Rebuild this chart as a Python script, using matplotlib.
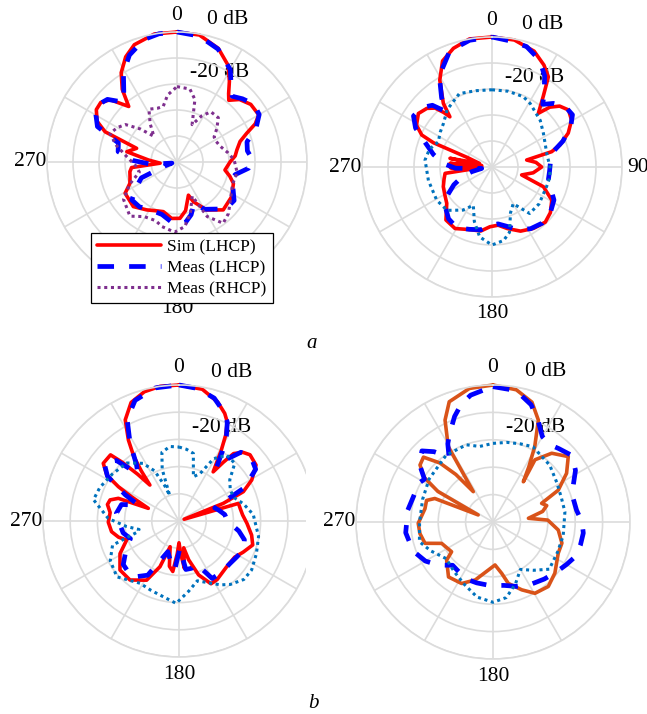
import matplotlib
matplotlib.use("Agg")
import matplotlib.pyplot as plt
import numpy as np
from matplotlib.patches import Rectangle

plt.rcParams["font.family"] = ["Liberation Serif", "DejaVu Serif"]

# Radiation patterns, gain in dB against angle in degrees.
# (a) left
A1_SIM_ANG = [0, 10, 20, 28, 33, 37, 40, 45, 52, 60, 64, 67.6, 72, 78.6, 84, 90, 99.5, 105, 110.7,
              122.4, 136, 148.3, 157.6, 161, 170, 177, 185.4, 195.4, 204, 212.3, 224.4, 238.9, 245.6,
              252, 258.4, 263, 266, 274, 281.6, 288.7, 292.8, 297, 303, 308, 313, 319, 323, 328, 334,
              340, 350, 360]
A1_SIM_DB = [0, -0.4, -3.5, -8, -13, -17, -19, -16, -14, -13.7, -16.5, -21, -24.5, -26.5, -27.5,
             -29.6, -31.3, -29, -26.8, -25.1, -24.4, -28.3, -33.5, -36.5, -31, -28.3, -28.2, -30.2,
             -29.5, -28.2, -26, -26.7, -30.1, -31, -31.5, -32.4, -43.5, -39, -30.3, -33.6, -20, -15.5,
             -13, -12.8, -14.9, -21.7, -15, -9.5, -5, -2, 0, 0]
A1_MEAS_ANG = [0, 10, 20, 30, 36, 40, 46, 53, 60, 67, 74, 81, 88, 95, 102, 108, 116, 124, 134, 143,
               150, 157, 165, 172, 178, 186, 196, 208, 220, 230, 240, 246, 252, 258, 265, 272, 280,
               288, 294, 300, 306, 312, 318, 323, 329, 336, 345, 352, 360]
A1_MEAS_DB = [0, -0.8, -3.8, -9, -14.5, -17, -15, -13, -13.5, -17, -22, -22.6, -21, -22.4, -27, -28.4,
              -26, -23.5, -24, -27.3, -29, -33, -29, -26.5, -26, -27, -29, -29, -27.5, -27.3, -32.5,
              -35, -45, -48, -40, -33, -27, -26.3, -16.5, -14, -12.5, -14, -19, -16, -10, -5, -1.2,
              -0.2, 0]
A1_RHCP_ANG = [0, 10, 16, 22, 28, 34, 43, 50, 56, 62, 70, 80, 88, 100, 112, 125, 135, 143, 151, 156,
               165, 173, 182, 193, 200, 211, 221, 235, 245, 255, 265, 275, 285, 293, 300, 306, 312,
               318, 325, 332, 340, 346, 352, 360]
A1_RHCP_DB = [-21, -21.5, -25, -34.5, -30, -26.7, -26.7, -30, -32.8, -33, -32.3, -30, -28, -26.5, -27,
              -24.9, -22, -20.5, -26, -35.6, -30, -25, -23, -24.5, -26, -25.5, -22.4, -24.9, -30, -35,
              -34, -31, -26, -22, -23.5, -25.5, -31, -36.7, -32, -27, -28, -28, -24, -21]

# (a) right
A2_SIM_ANG = [0, 10, 20, 27, 32, 36, 40.8, 44, 48, 53.3, 59.5, 66, 72, 75.6, 78.6, 84, 90, 98, 105,
              111, 119, 128, 136, 146, 156, 166, 174, 182, 190, 200, 211, 221, 231.3, 240, 248, 256,
              262.3, 266, 269, 272, 275, 278, 281.7, 286, 291, 292.5, 294.5, 299, 306, 312, 316,
              318.5, 320, 322.6, 329, 335, 342, 350, 360]
A2_SIM_DB = [0, -0.4, -2.6, -6, -9.1, -16.5, -22.7, -18, -15, -13.3, -14.5, -17.9, -22.5, -26.3,
             -36.4, -33, -30.9, -34, -38.2, -28.8, -23.7, -21.5, -20.5, -21.5, -23, -25.6, -27.5, -27,
             -25, -24.4, -22.4, -23, -27.7, -29, -29.8, -31, -31.8, -45, -34, -46, -33.8, -46, -33.5,
             -45, -40, -25.6, -20.3, -16.8, -15, -16.3, -18.5, -22, -24.8, -19.2, -11, -5, -2, 0, 0]
A2_MEAS_ANG = [0, 8, 16, 24, 30, 35, 39, 44, 50, 57, 63, 70, 78, 86, 94, 102, 110, 118, 128, 138,
               148, 158, 166, 174, 182, 190, 200, 210, 220, 230, 238, 245, 252, 257, 262, 268, 274,
               282, 290, 297, 303, 310, 316, 320, 324, 330, 340, 350, 360]
A2_MEAS_DB = [0, -1, -1.8, -5, -9.5, -15, -19, -16, -13.5, -13.1, -16, -21, -27, -27.5, -27.8, -27.8,
              -26, -23, -21.5, -21, -22, -24, -26.5, -28, -27.5, -25.5, -24.5, -23, -24, -26.5, -30,
              -33.8, -38, -42, -46, -36, -31.3, -27, -22.7, -17, -14, -14.5, -17, -22, -17, -9.5,
              -2.5, -0.5, 0]
A2_RHCP_ANG = [0, 12, 24, 31, 46, 57, 76, 90, 100, 110, 128, 141, 150, 158, 165, 171, 180, 190, 198,
               206, 214, 226, 239, 258, 276, 286, 295, 304, 312, 322, 336, 348, 360]
A2_RHCP_DB = [-20.3, -20.2, -20.4, -21.5, -24.2, -26.4, -28.3, -27.7, -27.4, -27.7, -27, -27, -33.7,
              -31, -24, -21.4, -20, -22.7, -28, -33.6, -30, -26, -25.2, -25, -24.1, -25, -27.2, -26,
              -24.9, -22, -19.1, -20, -20.3]

# (b) left
B1_SIM_ANG = [0, 10, 18, 23, 26, 28.5, 31, 34.8, 37, 39, 43, 47, 54, 60.6, 65.5, 68.3, 71, 73.5, 79,
              84.6, 92, 101, 108, 116, 123, 134, 147, 153, 160, 166, 170, 173.5, 177, 180, 183, 187,
              192, 199, 202.6, 208.7, 219.7, 230.3, 241, 250, 255, 261, 269, 277, 283, 287, 290.5,
              292.4, 297, 299.5, 302.5, 307.3, 314, 316, 318.5, 321, 323, 325, 328, 332, 338, 345,
              352, 360]
B1_SIM_DB = [0, -0.8, -4, -7, -9.5, -14, -20, -28, -23, -18.1, -15.5, -14.3, -15, -19.3, -24, -32.5,
             -48, -27.2, -27, -26.5, -25, -22.8, -21.5, -23.8, -25.6, -25.7, -24.3, -24.1, -28.9,
             -35.3, -40, -32.5, -38, -42, -38, -31.3, -33, -40, -31.8, -25.2, -21.8, -21.8, -25.2,
             -29.5, -27, -24.9, -24, -24.5, -23, -23.5, -26.2, -37.8, -30.4, -24.4, -18.5, -15, -15,
             -20, -27, -33, -27, -21, -14.9, -7.9, -3, -0.8, 0, 0]
B1_MEAS_ANG = [0, 8, 16, 22, 26, 29, 32, 35, 38, 42, 48, 56, 63, 70, 75, 82, 90, 99.5, 106, 114, 122,
               130, 140, 150, 158, 165, 172, 178, 185, 192, 200, 210, 220, 232, 242, 250, 258, 266,
               277, 286, 291.5, 296, 302, 308, 314, 319, 323, 328, 333, 340, 350, 360]
B1_MEAS_DB = [0, -0.8, -3, -6.5, -9.5, -14, -20, -26, -21, -16, -14.5, -16, -23, -36, -34.8, -33,
              -32.2, -27.7, -25, -24, -25, -25.6, -25.5, -25.6, -33, -32, -32, -40, -32, -35, -38, -27,
              -23, -24, -28, -31, -29, -28.3, -26.8, -28, -34, -28, -19, -15, -18, -27, -24, -16, -8,
              -2.8, -0.3, 0]
B1_RHCP_ANG = [0, 6, 12, 18, 24, 29, 36, 44, 51, 59, 67, 75, 85, 101, 113, 124, 132, 141, 147, 155,
               163, 172, 182, 192, 202, 212, 228, 240, 250, 255, 258, 264, 272, 284, 293, 305, 318,
               328, 334, 338, 340, 342, 346, 353, 360]
B1_RHCP_DB = [-22.8, -23.5, -24.6, -32.9, -30.9, -23.8, -20.1, -20.5, -26, -28, -28, -25.5, -22.6,
              -20.2, -19.1, -17.8, -17.9, -20, -22, -25, -27, -24, -19.7, -21.6, -22.5, -23, -19.3,
              -20.8, -24, -34, -35, -30.6, -24, -17.6, -18.4, -20, -21.3, -25, -29.5, -36, -40, -30,
              -24, -22.4, -22.8]

# (b) right
B2_SIM_ANG = [0, 10, 18, 24, 29, 33, 37, 34, 40.5, 49, 56.5, 64, 69, 73, 78, 84, 88, 97, 107, 115.6,
              129.6, 139.4, 149.5, 157, 166, 170.4, 177.3, 185.5, 197, 207, 219, 230.6, 234.3, 247.4,
              252.6, 261, 269, 281, 288, 292, 295.5, 299, 303, 308, 313, 318, 322, 327, 329.3, 334.8,
              340, 350, 360]
B2_SIM_DB = [0, -1, -4, -9.3, -18.6, -26, -31.6, -22.6, -17, -13.6, -17.8, -23.5, -31, -29.5, -31.5,
             -37, -30, -26, -23.7, -23.6, -20.7, -19, -19.8, -23.1, -26.9, -31, -34.3, -32.4, -27.9,
             -24.8, -24.2, -28.1, -31.4, -29.7, -24, -23, -22.7, -24.7, -24.5, -27.1, -44, -27, -20,
             -16.2, -15.3, -21, -28, -36.8, -18, -8.9, -3.3, -0.5, 0]
B2_MEAS_ANG = [0, 10, 18, 24, 30, 36, 42, 50, 58, 66, 74, 82, 90, 97, 105, 112, 120, 128, 138, 150,
               160, 170, 183, 195, 205, 215, 223, 232, 240, 250, 263, 278, 290, 296, 302, 308, 315,
               320, 326, 330, 334, 340, 345, 350, 356, 360]
B2_MEAS_DB = [-0.6, -1.3, -5, -9.5, -14, -15, -14, -12.3, -14.5, -18, -19.5, -19.2, -17.5, -16.8,
              -17, -17.2, -19, -20.5, -22, -23.5, -25, -26.5, -26.8, -27, -27, -28, -28.4, -24.5,
              -21.5, -19, -17.9, -18.6, -19.6, -19, -20.5, -16, -13.3, -16.5, -21.3, -17, -14, -9,
              -5.4, -3, -1.7, -0.6]
B2_RHCP_ANG = [0, 10, 19, 28, 45, 58, 70, 82, 101, 115, 130, 140, 150, 160, 170, 180, 192, 205, 218,
               232, 245, 255, 270, 288, 304, 325, 341, 350, 360]
B2_RHCP_DB = [-21.3, -20.5, -19.8, -18.9, -20.7, -22.6, -23.5, -23.5, -23.9, -24, -23.2, -27, -30,
              -26, -22, -20.7, -22, -25, -27, -28.3, -25, -22.2, -23.2, -23, -21.9, -20.2, -20.2, -22,
              -21.3]

LEGEND_LABELS = ["Sim (LHCP)", "Meas (LHCP)", "Meas (RHCP)"]
RING_DB = [-40, -30, -20, -10, 0]
FLOOR_DB = -50

W, H = 647, 714
GRID = "#DCDCDC"
RED, BLUE, PURPLE, CYAN, ORANGE = "#FF0000", "#0000FF", "#7E2F8E", "#0072BD", "#D95319"


def add_polar(fig, cx, cy, rad):
    """Polar axes centred on pixel (cx, cy) with outer ring radius rad."""
    ax = fig.add_axes([(cx - rad) / W, (H - cy - rad) / H, 2 * rad / W, 2 * rad / H],
                      projection="polar")
    ax.set_theta_zero_location("N")
    ax.set_theta_direction(-1)
    ax.set_ylim(0, -FLOOR_DB)
    ax.set_yticks([d - FLOOR_DB for d in RING_DB])
    ax.set_yticklabels([])
    ax.set_xticks(np.deg2rad(np.arange(0, 360, 30)))
    ax.set_xticklabels([])
    ax.grid(True, color=GRID, lw=1.2)
    ax.spines["polar"].set_color(GRID)
    ax.spines["polar"].set_linewidth(1.2)
    ax.patch.set_alpha(0)
    return ax


def curve(ax, ang, db, kind, color):
    r = np.clip(np.asarray(db, float) - FLOOR_DB, 0, None)
    th = np.deg2rad(ang)
    if kind == "sim":
        ln, = ax.plot(th, r, color=color, lw=2.6, solid_capstyle="round", solid_joinstyle="round")
    elif kind == "meas":
        ln, = ax.plot(th, r, color=color, lw=3.4, dashes=(3.5, 3.2), dash_capstyle="butt")
    else:
        ln, = ax.plot(th, r, color=color, lw=2.2, dashes=(1.0, 1.2), dash_capstyle="butt")
    ln.set_clip_on(False)
    return ln


def labels(ax, angles):
    for a in angles:
        ax.text(np.deg2rad(a), 56.3, str(a), ha="center", va="center", fontsize=15.5, zorder=1)
    ax.text(np.deg2rad(12), 56.0, "0 dB", ha="left", va="center", fontsize=15.5, zorder=1)
    ax.text(np.deg2rad(8), 34.8, "-20 dB", ha="left", va="center", fontsize=15.5, zorder=1)


fig = plt.figure(figsize=(W / 100, H / 100), dpi=100)

ax1 = add_polar(fig, 177, 162, 130)
labels(ax1, [0, 270, 180])
h1 = curve(ax1, A1_SIM_ANG, A1_SIM_DB, "sim", RED)
h2 = curve(ax1, A1_MEAS_ANG, A1_MEAS_DB, "meas", BLUE)
h3 = curve(ax1, A1_RHCP_ANG, A1_RHCP_DB, "rhcp", PURPLE)

ax2 = add_polar(fig, 492, 167, 130)
labels(ax2, [0, 90, 270, 180])
curve(ax2, A2_SIM_ANG, A2_SIM_DB, "sim", RED)
curve(ax2, A2_MEAS_ANG, A2_MEAS_DB, "meas", BLUE)
curve(ax2, A2_RHCP_ANG, A2_RHCP_DB, "rhcp", CYAN)

ax3 = add_polar(fig, 179, 521, 136)
labels(ax3, [0, 270, 180])
curve(ax3, B1_SIM_ANG, B1_SIM_DB, "sim", RED)
curve(ax3, B1_MEAS_ANG, B1_MEAS_DB, "meas", BLUE)
curve(ax3, B1_RHCP_ANG, B1_RHCP_DB, "rhcp", CYAN)

ax4 = add_polar(fig, 493, 522, 137)
labels(ax4, [0, 270, 180])
curve(ax4, B2_SIM_ANG, B2_SIM_DB, "sim", ORANGE)
curve(ax4, B2_MEAS_ANG, B2_MEAS_DB, "meas", BLUE)
curve(ax4, B2_RHCP_ANG, B2_RHCP_DB, "rhcp", CYAN)

# lower-left pattern is cropped on its right side
fig.patches.append(Rectangle((306 / W, 0), 16 / W, 360 / H, transform=fig.transFigure,
                             facecolor="white", edgecolor="none", zorder=4))

leg = fig.legend([h1, h2, h3], LEGEND_LABELS, loc="upper left",
                 bbox_to_anchor=(91 / W, 1 - 233 / H), borderaxespad=0, fontsize=12.5,
                 handlelength=3.7, handletextpad=0.35, labelspacing=0.28, borderpad=0.35,
                 fancybox=False, framealpha=1, edgecolor="black")
leg.get_frame().set_linewidth(0.9)

fig.text(312 / W, 1 - 343 / H, "a", style="italic", fontsize=15, ha="center", va="center", zorder=6)
fig.text(313 / W, 1 - 703 / H, "b", style="italic", fontsize=15, ha="center", va="center", zorder=6)

fig.savefig("out.png", dpi=100)
